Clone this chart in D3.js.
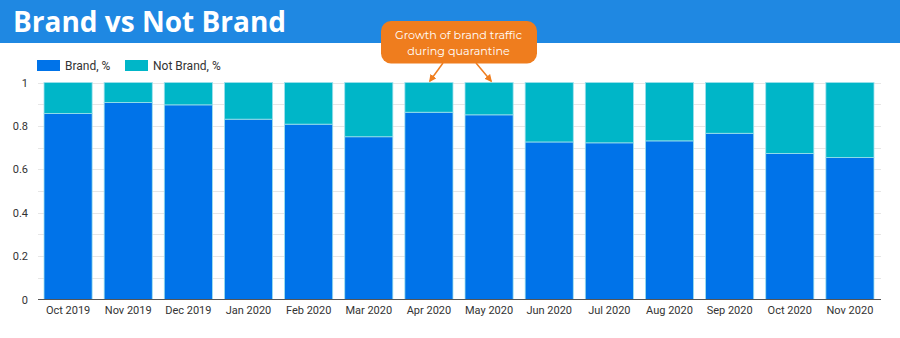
<!DOCTYPE html>
<html>
<head>
<meta charset="utf-8">
<script src="https://cdn.jsdelivr.net/npm/d3@7"></script>
<style>
  html, body { margin: 0; padding: 0; background: #fff; }
  svg { display: block; }
</style>
</head>
<body>
<svg id="chart" width="900" height="338"></svg>
<script>
// Monthly share of brand vs non-brand traffic
const months = ["Oct 2019", "Nov 2019", "Dec 2019", "Jan 2020", "Feb 2020", "Mar 2020", "Apr 2020",
                "May 2020", "Jun 2020", "Jul 2020", "Aug 2020", "Sep 2020", "Oct 2020", "Nov 2020"];
const brandShare = [0.857, 0.908, 0.897, 0.831, 0.808, 0.750, 0.863, 0.851, 0.726, 0.722, 0.731, 0.766, 0.673, 0.654];
const notBrandShare = brandShare.map(v => 1 - v);
const yTicks = [0, 0.2, 0.4, 0.6, 0.8, 1];
const seriesNames = ["Brand, %", "Not Brand, %"];
const seriesColors = ["#0073e9", "#00b6c8"];
const highlighted = ["Apr 2020", "May 2020"];

const svg = d3.select("#chart");
const W = 900, H = 338;
const font = "Roboto, 'Noto Sans', sans-serif";

// Header band
svg.append("rect").attr("x", 0).attr("y", 0).attr("width", W).attr("height", 43).attr("fill", "#1f88e2");
svg.append("text").attr("x", 13).attr("y", 32)
  .attr("font-family", "'Open Sans', sans-serif").attr("font-weight", 700)
  .attr("font-size", 28).attr("fill", "#fff").text("Brand vs Not Brand");

const x = d3.scaleBand().domain(months).range([38, 880]).paddingInner(0.2).paddingOuter(0.1);
const y = d3.scaleLinear().domain([0, 1]).range([299.5, 82.5]);

// Gridlines every 0.1
const g = svg.append("g");
g.selectAll("line.grid").data(d3.range(1, 11).map(i => i / 10)).join("line")
  .attr("x1", 38).attr("x2", 881)
  .attr("y1", d => Math.round(y(d)) + 0.5).attr("y2", d => Math.round(y(d)) + 0.5)
  .attr("stroke", "#e6e6e6").attr("stroke-width", 1);

// Stacked bars
const stackData = months.map((m, i) => ({ month: m, brand: brandShare[i], notBrand: notBrandShare[i] }));
const stack = d3.stack().keys(["brand", "notBrand"])(stackData);
g.selectAll("g.series").data(stack).join("g")
  .attr("fill", (d, i) => seriesColors[i])
  .selectAll("rect").data(d => d).join("rect")
  .attr("x", d => x(d.data.month))
  .attr("width", x.bandwidth())
  .attr("y", d => y(d[1]))
  .attr("height", d => y(d[0]) - y(d[1]))
  .attr("stroke", "#9fe0ec").attr("stroke-width", 0.8);

// Y axis
const yAxis = d3.axisLeft(y).tickValues(yTicks).tickSize(0).tickPadding(10).tickFormat(d3.format("~g"));
const ya = svg.append("g").attr("transform", "translate(38,0)").call(yAxis);
ya.select(".domain").remove();
ya.selectAll("text").attr("font-family", font).attr("font-size", 11).attr("fill", "#333");

// X axis
const xAxis = d3.axisBottom(x).tickSize(0).tickPadding(7);
const xa = svg.append("g").attr("transform", "translate(0,299.5)").call(xAxis);
xa.select(".domain").attr("d", "M38,0H881").attr("stroke", "#555").attr("stroke-width", 1.2);
xa.selectAll("text").attr("font-family", font).attr("font-size", 11).attr("fill", "#333");

// Legend
const legend = svg.append("g");
const lx = [37, 125];
seriesNames.forEach((name, i) => {
  legend.append("rect").attr("x", lx[i]).attr("y", 60).attr("width", 23).attr("height", 11).attr("fill", seriesColors[i]);
  legend.append("text").attr("x", lx[i] + 28).attr("y", 70)
    .attr("font-family", font).attr("font-size", 12).attr("fill", "#333").text(name);
});

// Callout
const orange = "#ef7d1e";
svg.append("defs").append("marker").attr("id", "head")
  .attr("viewBox", "0 0 10 10").attr("refX", 8).attr("refY", 5)
  .attr("markerWidth", 5).attr("markerHeight", 5).attr("orient", "auto")
  .append("path").attr("d", "M0,0L10,5L0,10z").attr("fill", orange);
const cx = 458.5;
svg.append("rect").attr("x", 381).attr("y", 21).attr("width", 156).attr("height", 42.5)
  .attr("rx", 10).attr("fill", orange);
svg.append("text").attr("x", cx).attr("y", 39).attr("text-anchor", "middle")
  .attr("font-family", "Montserrat, 'Open Sans', sans-serif").attr("font-size", 11.2).attr("fill", "#fff")
  .text("Growth of brand traffic");
svg.append("text").attr("x", cx).attr("y", 55).attr("text-anchor", "middle")
  .attr("font-family", "Montserrat, 'Open Sans', sans-serif").attr("font-size", 11.2).attr("fill", "#fff")
  .text("during quarantine");
highlighted.forEach((m, i) => {
  const bx = x(m) + x.bandwidth() / 2;
  const sx = i === 0 ? 443 : 476;
  svg.append("line").attr("x1", sx).attr("y1", 63).attr("x2", bx + (i === 0 ? 1 : 2)).attr("y2", 81)
    .attr("stroke", orange).attr("stroke-width", 1.5).attr("marker-end", "url(#head)");
});
</script>
</body>
</html>
